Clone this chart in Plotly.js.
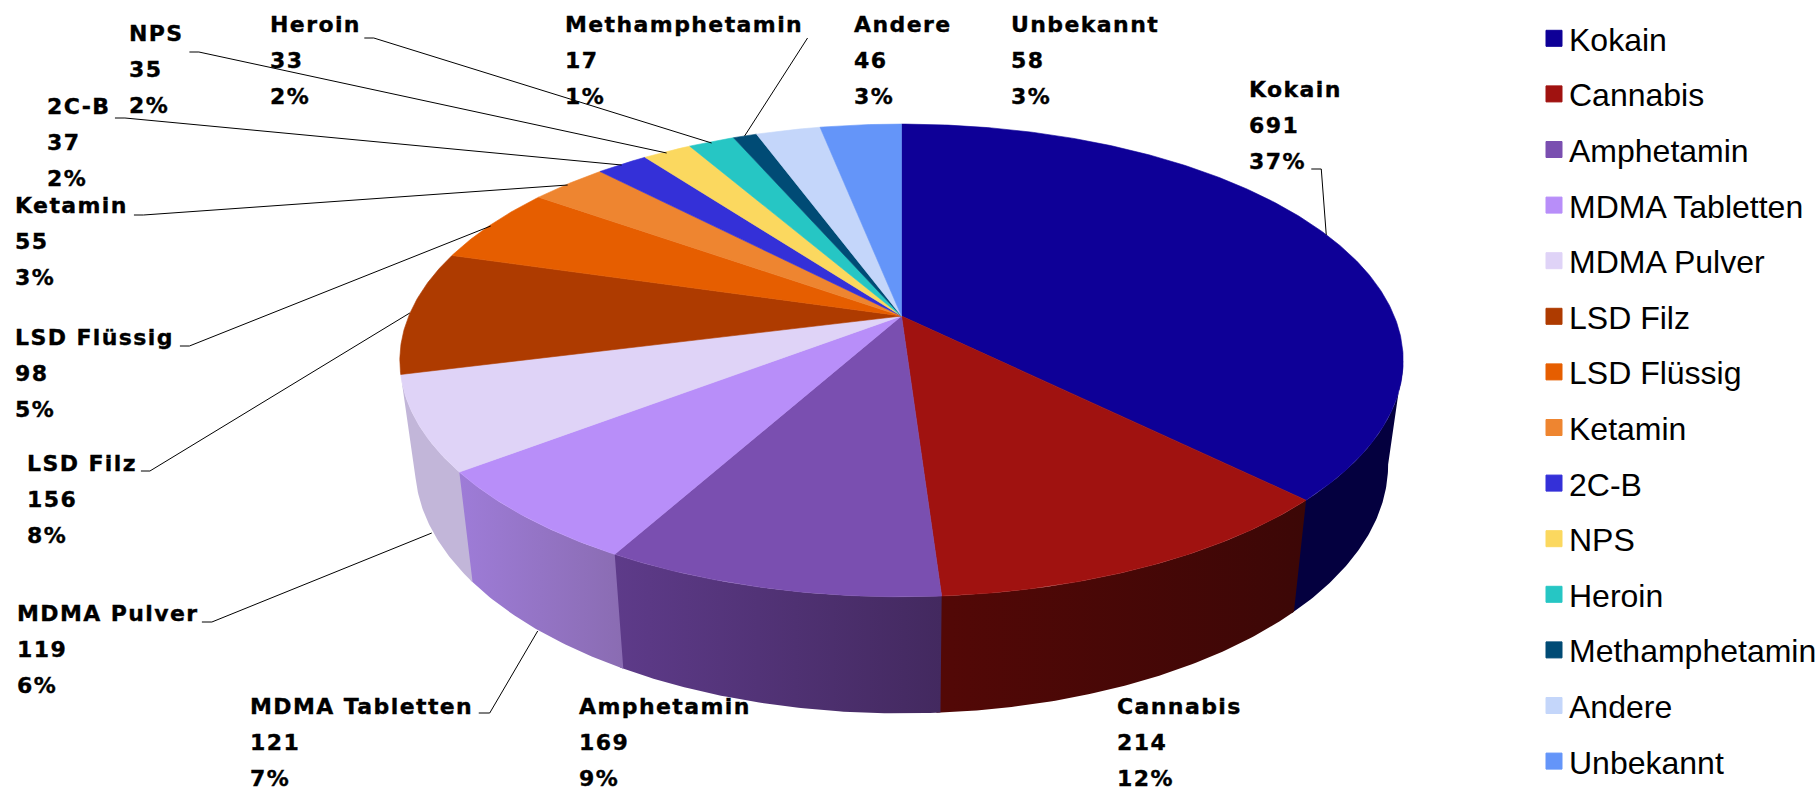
<!DOCTYPE html>
<html>
<head>
<meta charset="utf-8">
<script src="https://cdn.plot.ly/plotly-3.0.1.min.js"></script>
<style>
html,body{margin:0;padding:0;background:#fff}
#chart{width:1817px;height:790px}
.annotation-text{letter-spacing:1.4px;stroke:#000;stroke-width:.35px}
.legend .legendpoints{transform:translateX(10px)}
.legend .legendtext{transform:translateX(5px)}
.legend .scrollbox{clip-path:none !important}
</style>
</head>
<body>
<div id="chart"></div>
<script>
// ---------- data ----------
const categories = ['Kokain','Cannabis','Amphetamin','MDMA Tabletten','MDMA Pulver','LSD Filz','LSD Flüssig','Ketamin','2C-B','NPS','Heroin','Methamphetamin','Andere','Unbekannt'];
const values = [691,214,169,121,119,156,98,55,37,35,33,17,46,58];
const percents = ['37%','12%','9%','7%','6%','8%','5%','3%','2%','2%','2%','1%','3%','3%'];

// ---------- styles ----------
const topColors = ['#0E0097','#A01210','#7A4FB0','#B88EF9','#DFD3F7','#AE3B00','#E65E00','#EE8530','#3430D8','#FBD85F','#26C6C4','#004B75','#C4D6FA','#6495F9'];
const wallColors = [['#04003F','#04003F'],['#530806','#3C0706'],['#5E3B8A','#43295F'],['#9E7CD8','#8A6CB2'],['#C2B6D9','#C2B6D9']];

// ---------- tilted-disc projection ----------
const cx = 902, cy = 316, A = 493, B = 228, K = 0.188;
const wallCy = 418, wallSx = 0.97, wallSy = 1.052;
function rim(deg, bottom) {
  const t = deg * Math.PI / 180, d = 1 + K * Math.cos(t);
  const u = A * Math.sin(t) / d, v = B * Math.cos(t) / d;
  return bottom ? [cx + u * wallSx, wallCy - v * wallSy] : [cx + u, cy - v];
}
function arc(a0, a1, bottom) {
  const pts = [], n = Math.max(2, Math.ceil(Math.abs(a1 - a0) * 2));
  for (let i = 0; i <= n; i++) pts.push(rim(a0 + (a1 - a0) * i / n, bottom));
  return pts;
}
const total = values.reduce((a, b) => a + b, 0);
let run = 0;
const angles = values.map(v => { const a0 = run / total * 360; run += v; return [a0, run / total * 360]; });

const traces = [];
// side walls (front slices only), painted first
wallColors.forEach((c, i) => {
  const a0 = i === 0 ? 100.8 : angles[i][0];
  const a1 = Math.min(angles[i][1] + 0.4, 256);
  const pts = arc(a0, a1, false).concat(arc(a1, a0, true));
  traces.push({
    type: 'scatter', mode: 'lines', showlegend: false, hoverinfo: 'skip',
    x: pts.map(p => p[0]), y: pts.map(p => p[1]),
    line: {width: 0, color: c[0]}, fill: 'toself',
    fillgradient: {type: 'horizontal', colorscale: [[0, c[0]], [1, c[1]]]}
  });
});
// top face
categories.forEach((name, i) => {
  const pts = [[cx, cy]].concat(arc(angles[i][0], angles[i][1], false));
  pts.push([cx, cy]);
  traces.push({
    type: 'scatter', mode: 'lines', showlegend: false, name,
    x: pts.map(p => p[0]), y: pts.map(p => p[1]),
    line: {width: 0.6, color: topColors[i]}, fill: 'toself', fillcolor: topColors[i],
    text: name + ': ' + values[i] + ' (' + percents[i] + ')', hoverinfo: 'text'
  });
});
// legend entries
categories.forEach((name, i) => {
  traces.push({
    type: 'scatter', mode: 'markers', name, legendgroup: name, x: [null], y: [null],
    marker: {symbol: 'square', size: 16, color: topColors[i], line: {width: 1, color: topColors[i]}}
  });
});

// ---------- data label placement (left edge, first line centre) ----------
const labelX = [1250,1117.5,579,250,17,27,15.5,15.5,47,129,270,565,854,1012];
const labelY = [89,706,706,706,613,463,337,205,106,33,24,24,24,24];
const lineGap = 36;
const annotations = [];
categories.forEach((name, i) => {
  [name, String(values[i]), percents[i]].forEach((txt, j) => {
    annotations.push({
      xref: 'x', yref: 'y', x: labelX[i], y: labelY[i] + j * lineGap,
      xanchor: 'left', yanchor: 'middle', showarrow: false, text: txt, xshift: -2,
      font: {family: '"DejaVu Sans", sans-serif', size: 22, color: '#000', weight: 700}
    });
  });
});

// ---------- leader lines ----------
const leaders = [
  'M1312,169 L1322,169 L1327,235',
  'M479,713 L490,713 L538,631',
  'M202,622 L212,622 L432,533',
  'M141,471 L150,471 L410,313',
  'M180,346 L189.5,346 L491,226',
  'M134,215 L143.5,215 L568,185',
  'M115,118 L125,118 L622,165',
  'M189.5,52 L199,52 L667,153',
  'M364.5,38 L374,38 L712,143',
  'M808,38 L745,136'
];

const layout = {
  width: 1817, height: 790, margin: {l: 0, r: 0, t: 0, b: 0},
  paper_bgcolor: '#fff', plot_bgcolor: '#fff', hovermode: 'closest',
  xaxis: {range: [0, 1817], visible: false, fixedrange: true},
  yaxis: {range: [790, 0], visible: false, fixedrange: true},
  annotations,
  shapes: leaders.map(path => ({type: 'path', xref: 'x', yref: 'y', path, line: {color: '#000', width: 1}, layer: 'above'})),
  showlegend: true,
  legend: {
    x: 1525 / 1817, xanchor: 'left', y: 1 - 11 / 790, yanchor: 'top',
    bgcolor: 'rgba(0,0,0,0)', borderwidth: 0, tracegroupgap: 11, itemclick: false, itemdoubleclick: false,
    font: {family: '"Liberation Sans", Arial, sans-serif', size: 32, color: '#000'}
  }
};
Plotly.newPlot('chart', traces, layout, {displayModeBar: false, responsive: false});
</script>
</body>
</html>
